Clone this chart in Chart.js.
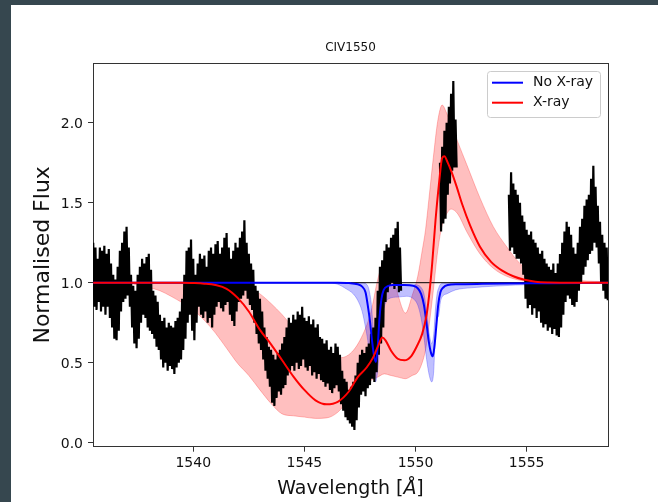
<!DOCTYPE html>
<html>
<head>
    <meta charset="utf-8">
    <title>CIV1550</title>
    <script src="https://cdn.jsdelivr.net/npm/chart.js"></script>
    <style>
        body {
            margin: 0;
            width: 658px;
            height: 502px;
            overflow: hidden;
            background: #36474f;
        }
        .panel {
            position: absolute;
            left: 11px;
            top: 5px;
            width: 647px;
            height: 497px;
            background: #fff;
        }
    </style>
</head>
<body>
    <div class="panel">
        <canvas id="civChart" width="647" height="497"></canvas>
    </div>

    <script>
        // axis limits and ticks
        const waveMin = 1535.49, waveMax = 1558.66;
        const fluxMin = -0.025, fluxMax = 2.373;
        const waveTicks = [1540, 1545, 1550, 1555];
        const fluxTicks = [0, 0.5, 1.0, 1.5, 2.0];
        const continuumLevel = 1.0;

        // observed spectrum, one value every 0.05 A, in three pieces (gaps between them)
        const specStep = 0.05;
        const specStartA = 1535.5;
        const specFluxA = [
            1.25, 0.85, 1.22, 0.83, 1.15, 0.88, 1.22, 0.82, 1.20, 0.85,
            1.23, 0.80, 1.18, 0.85, 1.21, 0.78, 1.12, 0.72, 1.05, 0.65,
            1.02, 0.64, 1.10, 0.70, 1.20, 0.82, 1.25, 0.88, 1.32, 0.90,
            1.35, 0.92, 1.22, 0.85, 1.05, 0.72, 0.98, 0.62, 0.95, 0.59,
            1.05, 0.65, 1.10, 0.75, 1.15, 0.80, 1.12, 0.78, 1.16, 0.72,
            1.18, 0.70, 1.08, 0.68, 0.95, 0.65, 0.92, 0.60, 0.88, 0.58,
            0.80, 0.52, 0.76, 0.47, 0.78, 0.50, 0.72, 0.45, 0.75, 0.48,
            0.73, 0.46, 0.72, 0.43, 0.76, 0.47, 0.78, 0.50, 0.82, 0.52,
            0.90, 0.58, 1.05, 0.65, 1.20, 0.75, 1.22, 0.80, 1.27, 0.70,
            1.15, 0.64, 1.05, 0.75, 1.12, 0.85, 1.18, 0.80, 1.15, 0.78,
            1.17, 0.82, 1.10, 0.75, 1.20, 0.78, 1.22, 0.72, 1.18, 0.80,
            1.24, 0.85, 1.26, 0.88, 1.18, 0.84, 1.22, 0.82, 1.28, 0.86,
            1.31, 0.88, 1.22, 0.80, 1.15, 0.76, 1.20, 0.73, 1.25, 0.82,
            1.22, 0.88, 1.28, 0.90, 1.32, 0.92, 1.39, 0.95, 1.25, 0.90,
            1.18, 0.86, 1.12, 0.83, 1.08, 0.75, 0.98, 0.68, 0.95, 0.62,
            0.90, 0.58, 0.82, 0.52, 0.72, 0.45, 0.66, 0.40, 0.60, 0.35,
            0.58, 0.25, 0.55, 0.23, 0.52, 0.28, 0.56, 0.32, 0.58, 0.30,
            0.62, 0.34, 0.66, 0.36, 0.72, 0.42, 0.78, 0.45, 0.75, 0.48,
            0.80, 0.45, 0.77, 0.50, 0.82, 0.46, 0.80, 0.48, 0.85, 0.52,
            0.78, 0.47, 0.76, 0.45, 0.79, 0.48, 0.74, 0.42, 0.77, 0.44,
            0.72, 0.40, 0.74, 0.43, 0.66, 0.39, 0.65, 0.38, 0.62, 0.35,
            0.64, 0.37, 0.58, 0.33, 0.60, 0.31, 0.56, 0.34, 0.62, 0.36,
            0.60, 0.32, 0.55, 0.24, 0.45, 0.20, 0.40, 0.16, 0.38, 0.14,
            0.33, 0.12, 0.35, 0.10, 0.38, 0.08, 0.42, 0.14, 0.50, 0.22,
            0.55, 0.30, 0.58, 0.32, 0.56, 0.29, 0.60, 0.34, 0.62, 0.36,
            0.68, 0.40, 0.72, 0.38, 0.78, 0.44, 0.95, 0.55, 1.10, 0.62,
            1.14, 0.72, 1.20, 0.88, 1.24, 0.94, 1.22, 0.98, 1.28, 1.00,
            1.30, 0.96, 1.34, 0.98, 1.38, 0.94, 1.22, 0.95
        ];
        const specStartB = 1551.1;
        const specFluxB = [
            1.75, 1.32, 1.85, 1.37, 1.95, 1.40, 2.00, 1.55,
            2.10, 1.62, 2.18, 1.70, 2.26, 1.72, 2.02, 1.72
        ];
        const specStartC = 1554.2;
        const specFluxC = [
            1.55, 1.20, 1.69, 1.22, 1.62, 1.18, 1.58, 1.15, 1.55, 1.15,
            1.50, 1.12, 1.42, 1.05, 1.38, 0.90, 1.33, 0.84, 1.30, 0.86,
            1.32, 0.80, 1.27, 0.84, 1.25, 0.78, 1.22, 0.82, 1.18, 0.75,
            1.20, 0.72, 1.15, 0.74, 1.12, 0.70, 1.10, 0.72, 1.08, 0.68,
            1.12, 0.71, 1.06, 0.67, 1.12, 0.66, 1.18, 0.72, 1.25, 0.80,
            1.32, 0.88, 1.38, 0.92, 1.35, 0.90, 1.30, 0.86, 1.22, 0.85,
            1.18, 0.88, 1.25, 0.95, 1.35, 1.00, 1.40, 1.05, 1.48, 1.10,
            1.52, 1.14, 1.55, 1.18, 1.65, 1.20, 1.73, 1.25, 1.60, 1.22,
            1.48, 1.12, 1.38, 1.00, 1.30, 0.95, 1.25, 0.90, 1.22, 0.89
        ];

        // model without X-rays
        const noXrayWave = [1535.5, 1546.5, 1547.0, 1547.4, 1547.6, 1547.75, 1547.85, 1547.95, 1548.05, 1548.15,
            1548.22, 1548.3, 1548.38, 1548.47, 1548.57, 1548.75, 1549.0, 1549.5, 1549.9, 1550.1,
            1550.25, 1550.38, 1550.5, 1550.6, 1550.7, 1550.78, 1550.85, 1550.93, 1551.02, 1551.12,
            1551.25, 1551.45, 1551.9, 1553.0, 1556.0, 1558.7];
        const noXrayFlux = [1.0, 1.0, 0.998, 0.99, 0.975, 0.94, 0.86, 0.76, 0.63, 0.53,
            0.505, 0.6, 0.78, 0.9, 0.955, 0.978, 0.985, 0.986, 0.98, 0.965,
            0.93, 0.86, 0.74, 0.63, 0.56, 0.54, 0.6, 0.72, 0.86, 0.94,
            0.97, 0.985, 0.99, 0.993, 0.997, 1.0];

        // spread of the no X-ray models
        const noXrayBandWave = [1535.5, 1546.0, 1546.5, 1546.9, 1547.2, 1547.4, 1547.6, 1547.75, 1547.85, 1547.9,
            1548.0, 1548.1, 1548.2, 1548.28, 1548.36, 1548.45, 1548.6, 1548.8, 1549.2, 1549.6,
            1549.9, 1550.1, 1550.25, 1550.38, 1550.5, 1550.62, 1550.73, 1550.82, 1550.9, 1550.97,
            1551.05, 1551.12, 1551.25, 1551.4, 1551.8, 1552.5, 1553.5, 1554.5, 1555.5, 1556.5, 1558.7];
        const noXrayBandLow = [1.0, 1.0, 0.99, 0.96, 0.93, 0.89, 0.82, 0.72, 0.64, 0.58,
            0.48, 0.42, 0.38, 0.43, 0.55, 0.72, 0.85, 0.9, 0.91, 0.915,
            0.9, 0.86, 0.78, 0.66, 0.52, 0.42, 0.38, 0.45, 0.7, 0.77,
            0.8, 0.88, 0.92, 0.93, 0.955, 0.968, 0.978, 0.985, 0.99, 0.995, 1.0];
        const noXrayBandHigh = [1.0, 1.0, 1.0, 1.0, 1.0, 1.0, 1.0, 0.995, 0.98, 0.96,
            0.88, 0.72, 0.62, 0.7, 0.86, 0.96, 0.99, 0.99, 0.99, 0.99,
            0.99, 0.985, 0.97, 0.93, 0.82, 0.68, 0.62, 0.68, 0.84, 0.93,
            0.97, 0.99, 0.995, 0.995, 0.997, 0.998, 1.0, 1.0, 1.0, 1.0, 1.0];

        // model with X-rays
        const xrayWave = [1535.5, 1539.5, 1540.0, 1540.5, 1541.0, 1541.5, 1542.0, 1542.5, 1543.0, 1543.5,
            1544.0, 1544.5, 1545.0, 1545.5, 1546.0, 1546.5, 1547.0, 1547.4, 1547.8, 1548.1,
            1548.35, 1548.5, 1548.65, 1548.9, 1549.2, 1549.5, 1549.8, 1550.05, 1550.3, 1550.5,
            1550.65, 1550.75, 1550.9, 1551.05, 1551.2, 1551.3, 1551.45, 1551.6, 1551.85, 1552.1,
            1552.45, 1552.9, 1553.4, 1553.9, 1554.4, 1554.9, 1555.4, 1556.0, 1556.5, 1558.7];
        const xrayFlux = [1.0, 1.0, 0.998, 0.994, 0.985, 0.962, 0.905, 0.82, 0.705, 0.615,
            0.515, 0.415, 0.33, 0.265, 0.24, 0.255, 0.32, 0.41, 0.47, 0.535,
            0.615, 0.658, 0.64, 0.575, 0.525, 0.515, 0.54, 0.6, 0.68, 0.8,
            0.97, 1.12, 1.39, 1.61, 1.78, 1.79, 1.75, 1.70, 1.60, 1.49,
            1.36, 1.225, 1.13, 1.075, 1.04, 1.018, 1.006, 1.001, 1.0, 1.0];

        // spread of the X-ray models
        const xrayBandWave = [1535.5, 1537.0, 1537.5, 1538.0, 1538.5, 1539.0, 1539.5, 1540.0, 1540.5, 1541.0,
            1541.5, 1542.0, 1542.5, 1543.0, 1543.5, 1544.0, 1544.5, 1545.0, 1545.5, 1546.0,
            1546.5, 1547.0, 1547.5, 1548.0, 1548.3, 1548.6, 1548.9, 1549.2, 1549.55, 1549.85,
            1550.1, 1550.3, 1550.45, 1550.6, 1550.8, 1551.0, 1551.2, 1551.4, 1551.6, 1551.9,
            1552.3, 1552.9, 1553.5, 1554.1, 1554.7, 1555.2, 1555.9, 1556.7, 1557.4, 1558.7];
        const xrayBandLow = [1.0, 0.998, 0.985, 0.97, 0.95, 0.915, 0.875, 0.83, 0.765, 0.685,
            0.59, 0.495, 0.42, 0.33, 0.245, 0.18, 0.168, 0.16, 0.152, 0.155,
            0.19, 0.27, 0.35, 0.39, 0.41, 0.43, 0.42, 0.41, 0.40, 0.42,
            0.44, 0.5, 0.58, 0.72, 0.95, 1.2, 1.36, 1.43, 1.46, 1.43,
            1.32, 1.18, 1.09, 1.04, 1.015, 1.005, 1.0, 1.0, 1.0, 1.0];
        const xrayBandHigh = [1.0, 1.0, 1.0, 1.0, 1.0, 1.0, 1.0, 1.0, 1.0, 1.0,
            0.998, 0.99, 0.97, 0.93, 0.87, 0.8, 0.72, 0.65, 0.58, 0.54,
            0.53, 0.55, 0.64, 0.82, 1.02, 1.14, 1.10, 0.93, 0.81, 0.92,
            1.04, 1.2, 1.33, 1.52, 1.78, 2.01, 2.11, 2.06, 1.99, 1.88,
            1.74, 1.53, 1.35, 1.225, 1.12, 1.07, 1.04, 1.027, 1.013, 1.006];

        const fontFamily = '"DejaVu Sans", sans-serif';
        const inkColor = '#111';
        const spineColor = '#333';

        function pairs(xs, ys) {
            return xs.map((x, i) => ({ x: x, y: ys[i] }));
        }
        function sampled(start, fluxes) {
            return fluxes.map((f, i) => ({ x: start + i * specStep, y: f }));
        }

        // the spectrum as one line, broken at the gaps
        const spectrumPoints = [].concat(
            sampled(specStartA, specFluxA), [{ x: 1550.2, y: null }],
            sampled(specStartB, specFluxB), [{ x: 1553.0, y: null }],
            sampled(specStartC, specFluxC)
        );

        // legend box drawn inside the plot, top right
        const insetLegend = {
            id: 'insetLegend',
            afterDatasetsDraw(chart) {
                const ctx = chart.ctx;
                const area = chart.chartArea;
                const entries = ['No X-ray', 'X-ray'].map(l => chart.data.datasets.find(d => d.label === l));
                const boxW = 113, boxH = 46;
                const x0 = area.right - 8 - boxW;
                const y0 = area.top + 8;
                ctx.save();
                ctx.beginPath();
                ctx.roundRect(x0 + 0.5, y0 + 0.5, boxW, boxH, 3);
                ctx.fillStyle = 'rgba(255, 255, 255, 0.8)';
                ctx.fill();
                ctx.strokeStyle = '#cccccc';
                ctx.lineWidth = 1;
                ctx.stroke();
                ctx.font = '14px ' + fontFamily;
                ctx.textBaseline = 'middle';
                ctx.textAlign = 'left';
                entries.forEach((d, i) => {
                    const y = y0 + 11.7 + i * 20;
                    ctx.strokeStyle = d.borderColor;
                    ctx.lineWidth = 2;
                    ctx.beginPath();
                    ctx.moveTo(x0 + 5, y);
                    ctx.lineTo(x0 + 36, y);
                    ctx.stroke();
                    ctx.fillStyle = inkColor;
                    ctx.fillText(d.label, x0 + 46, y);
                });
                ctx.restore();
            }
        };

        // x axis label with the italic Angstrom sign
        const waveAxisLabel = {
            id: 'waveAxisLabel',
            afterDraw(chart) {
                const ctx = chart.ctx;
                const area = chart.chartArea;
                const parts = [
                    { text: 'Wavelength [', font: '19px ' + fontFamily },
                    { text: 'Å', font: 'italic 19px ' + fontFamily },
                    { text: ']', font: '19px ' + fontFamily }
                ];
                ctx.save();
                let total = 0;
                parts.forEach(p => {
                    ctx.font = p.font;
                    p.w = ctx.measureText(p.text).width;
                    total += p.w;
                });
                let x = (area.left + area.right) / 2 - total / 2;
                const y = area.bottom + 47.3;
                ctx.fillStyle = inkColor;
                ctx.textBaseline = 'alphabetic';
                ctx.textAlign = 'left';
                parts.forEach(p => {
                    ctx.font = p.font;
                    ctx.fillText(p.text, x, y);
                    x += p.w;
                });
                ctx.restore();
            }
        };

        Chart.defaults.font.family = fontFamily;
        Chart.defaults.color = inkColor;

        const ctx = document.getElementById('civChart').getContext('2d');
        const civChart = new Chart(ctx, {
            type: 'line',
            data: {
                datasets: [
                    {
                        data: pairs(xrayBandWave, xrayBandLow),
                        borderColor: 'rgba(255, 0, 0, 0.25)',
                        borderWidth: 1,
                        fill: false,
                        cubicInterpolationMode: 'monotone',
                        order: 6
                    },
                    {
                        data: pairs(xrayBandWave, xrayBandHigh),
                        borderColor: 'rgba(255, 0, 0, 0.25)',
                        backgroundColor: 'rgba(255, 0, 0, 0.25)',
                        borderWidth: 1,
                        fill: '-1',
                        cubicInterpolationMode: 'monotone',
                        order: 6
                    },
                    {
                        data: pairs(noXrayBandWave, noXrayBandLow),
                        borderColor: 'rgba(0, 0, 255, 0.25)',
                        borderWidth: 1,
                        fill: false,
                        cubicInterpolationMode: 'monotone',
                        order: 5
                    },
                    {
                        data: pairs(noXrayBandWave, noXrayBandHigh),
                        borderColor: 'rgba(0, 0, 255, 0.25)',
                        backgroundColor: 'rgba(0, 0, 255, 0.25)',
                        borderWidth: 1,
                        fill: '-1',
                        cubicInterpolationMode: 'monotone',
                        order: 5
                    },
                    {
                        // continuum level
                        data: [{ x: waveMin, y: continuumLevel }, { x: waveMax, y: continuumLevel }],
                        borderColor: '#000',
                        borderWidth: 1,
                        order: 4
                    },
                    {
                        data: spectrumPoints,
                        borderColor: '#000',
                        borderWidth: 2.2,
                        spanGaps: false,
                        order: 3
                    },
                    {
                        label: 'No X-ray',
                        data: pairs(noXrayWave, noXrayFlux),
                        borderColor: 'rgb(0, 0, 255)',
                        borderWidth: 2,
                        cubicInterpolationMode: 'monotone',
                        order: 2
                    },
                    {
                        label: 'X-ray',
                        data: pairs(xrayWave, xrayFlux),
                        borderColor: 'rgb(255, 0, 0)',
                        borderWidth: 2,
                        cubicInterpolationMode: 'monotone',
                        order: 1
                    }
                ]
            },
            options: {
                responsive: false,
                animation: false,
                devicePixelRatio: 1,
                events: [],
                layout: { padding: 0 },
                elements: { point: { radius: 0 }, line: { tension: 0 } },
                plugins: {
                    legend: { display: false },
                    tooltip: { enabled: false }
                },
                scales: {
                    x: {
                        type: 'linear',
                        position: 'bottom',
                        min: waveMin,
                        max: waveMax,
                        afterBuildTicks: (axis) => { axis.ticks = waveTicks.map(v => ({ value: v })); },
                        afterFit: (axis) => { axis.height = 55.3; },
                        ticks: {
                            callback: (v) => String(v),
                            font: { size: 14 },
                            color: inkColor,
                            padding: 3,
                            maxRotation: 0,
                            autoSkip: false
                        },
                        grid: { drawOnChartArea: false, tickLength: 5, tickColor: spineColor, tickWidth: 1 },
                        border: { display: true, color: spineColor, width: 1 }
                    },
                    xTop: {
                        type: 'linear',
                        position: 'top',
                        min: waveMin,
                        max: waveMax,
                        afterFit: (axis) => { axis.height = 58; },
                        ticks: { display: false },
                        grid: { drawOnChartArea: false, drawTicks: false },
                        border: { display: true, color: spineColor, width: 1 },
                        title: {
                            display: true,
                            text: 'CIV1550',
                            font: { size: 12 },
                            color: inkColor,
                            padding: { top: 35.5, bottom: 0 }
                        }
                    },
                    y: {
                        type: 'linear',
                        position: 'left',
                        min: fluxMin,
                        max: fluxMax,
                        afterBuildTicks: (axis) => { axis.ticks = fluxTicks.map(v => ({ value: v })); },
                        afterFit: (axis) => { axis.width = 82; },
                        ticks: {
                            callback: (v) => v.toFixed(1),
                            font: { size: 14 },
                            color: inkColor,
                            padding: 5,
                            labelOffset: 1.5,
                            autoSkip: false
                        },
                        grid: { drawOnChartArea: false, tickLength: 5, tickColor: spineColor, tickWidth: 1 },
                        border: { display: true, color: spineColor, width: 1 },
                        title: {
                            display: true,
                            text: 'Normalised Flux',
                            font: { size: 22 },
                            color: inkColor,
                            padding: { top: 19, bottom: 0 }
                        }
                    },
                    yRight: {
                        type: 'linear',
                        position: 'right',
                        min: fluxMin,
                        max: fluxMax,
                        afterFit: (axis) => { axis.width = 50; },
                        ticks: { display: false },
                        grid: { drawOnChartArea: false, drawTicks: false },
                        border: { display: true, color: spineColor, width: 1 }
                    }
                }
            },
            plugins: [insetLegend, waveAxisLabel]
        });
    </script>
</body>
</html>
